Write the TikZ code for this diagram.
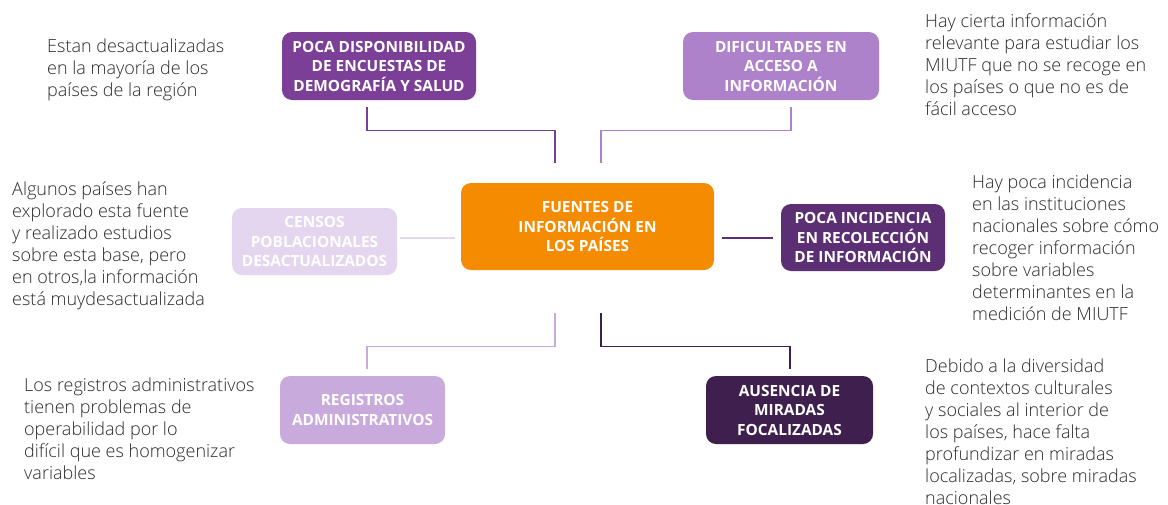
\documentclass[tikz,border=0pt]{standalone}
\usepackage{fontspec}
\setmainfont{Open Sans}
\IfFontExistsTF{Open Sans Light}{\newfontfamily\lightfont{Open Sans Light}}{\newcommand\lightfont{\normalfont}}
\IfFontExistsTF{Open Sans SemiBold}{\newfontfamily\semifont{Open Sans SemiBold}}{\newcommand\semifont{\bfseries}}
\usetikzlibrary{calc}
\definecolor{cA}{HTML}{7B3F98}
\definecolor{cB}{HTML}{AE82CB}
\definecolor{cC}{HTML}{F48B00}
\definecolor{cD}{HTML}{E5D6EF}
\definecolor{cE}{HTML}{5C2E74}
\definecolor{cF}{HTML}{C9AADD}
\definecolor{cG}{HTML}{3E1F4D}
\definecolor{txt}{HTML}{2B2B2B}
\begin{document}
\begin{tikzpicture}[x=1pt,y=-1pt,
  boxst/.style={rounded corners=10pt, text=white, font=\semifont\fontsize{15.4}{19.5}\selectfont, align=center, inner sep=0pt},
  descst/.style={anchor=west, align=left, inner sep=0pt, text=txt, font=\lightfont\fontsize{18}{22}\selectfont},
  link/.style={line width=1.3pt}]
\useasboundingbox (0,0) rectangle (1168,504);
\fill[white] (0,0) rectangle (1168,504);
% boxes
\node[boxst, fill=cA, minimum width=194pt, minimum height=68pt] (tl) at (379,66) {POCA DISPONIBILIDAD\\DE ENCUESTAS DE\\DEMOGRAFÍA Y SALUD};
\node[boxst, fill=cB, minimum width=196pt, minimum height=68pt] (tr) at (781,66) {DIFICULTADES EN\\ACCESO A\\INFORMACIÓN};
\node[boxst, fill=cC, minimum width=253pt, minimum height=87pt] (c) at (587.5,226.5) {FUENTES DE\\INFORMACIÓN EN\\LOS PAÍSES};
\node[boxst, fill=cD, minimum width=165pt, minimum height=67pt] (l) at (314.5,241.5) {CENSOS\\POBLACIONALES\\DESACTUALIZADOS};
\node[boxst, fill=cE, minimum width=164pt, minimum height=67pt] (r) at (863,237.5) {POCA INCIDENCIA\\EN RECOLECCIÓN\\DE INFORMACIÓN};
\node[boxst, fill=cF, minimum width=165pt, minimum height=68pt] (bl) at (362.5,410) {REGISTROS\\ADMINISTRATIVOS};
\node[boxst, fill=cG, minimum width=167pt, minimum height=68pt] (br) at (789.5,410) {AUSENCIA DE\\MIRADAS\\FOCALIZADAS};
% connectors
\draw[link, cA] ($(tl.south)+(-12,7)$) -- ++(0,23) -| ($(c.north)+(-32.5,-20)$);
\draw[link, cB] ($(tr.south)+(10,7)$) -- ++(0,23) -| ($(c.north)+(13.5,-20)$);
\draw[link, cD] ($(l.east)+(3,-3.5)$) -- ($(c.west)+(-6,11.5)$);
\draw[link, cE] ($(c.east)+(8,11.5)$) -- ($(r.west)+(-8,0.5)$);
\draw[link, cF] ($(c.south)+(-32.5,43)$) -- ++(0,33) -| ($(bl.north)+(4.5,-7)$);
\draw[link, cG] ($(c.south)+(13.5,43)$) -- ++(0,33) -| ($(br.north)+(0.5,-7)$);
% descriptions
\node[descst] (dtl) at (47,70) {Estan desactualizadas\\en la mayoría de los\\países de la región};
\node[descst] (dtr) at (925,65) {Hay cierta información\\relevante para estudiar los\\MIUTF que no se recoge en\\los países o que no es de\\fácil acceso};
\node[descst] (dl) at (12,245.5) {Algunos países han\\explorado esta fuente\\y realizado estudios\\sobre esta base, pero\\en otros,la información\\está muydesactualizada};
\node[descst] (dr) at (972,248) {Hay poca incidencia\\en las instituciones\\nacionales sobre cómo\\recoger información\\sobre variables\\determinantes en la\\medición de MIUTF};
\node[descst] (dbl) at (24,428.5) {Los registros administrativos\\tienen problemas de\\operabilidad por lo\\difícil que es homogenizar\\variables};
\node[descst] (dbr) at (925,431.5) {Debido a la diversidad\\de contextos culturales\\y sociales al interior de\\los países, hace falta\\profundizar en miradas\\localizadas, sobre miradas\\nacionales};
\end{tikzpicture}
\end{document}
